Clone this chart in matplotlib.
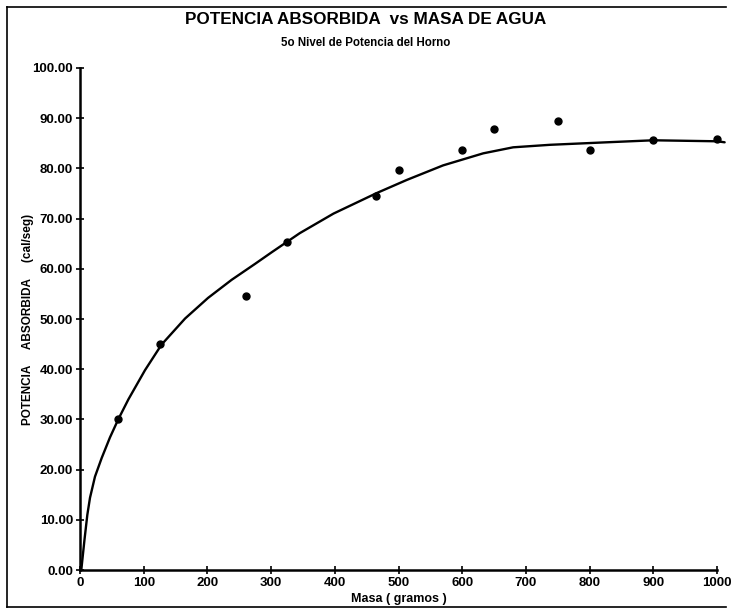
import matplotlib
matplotlib.use('Agg')
import matplotlib.pyplot as plt
from matplotlib.lines import Line2D

# measured points
masa = [60, 125, 260, 325, 465, 500, 600, 650, 750, 800, 900, 1000]
potencia = [30.0, 45.0, 54.5, 65.3, 74.6, 79.7, 83.7, 87.8, 89.4, 83.7, 85.7, 85.9]

# trend curve, read along its length
curva_x = [2, 7, 11.5, 15.7, 23.5, 34, 47, 60, 76, 102, 128, 165, 201, 238, 275, 301,
           345, 398, 466, 513, 570, 633, 680, 738, 827, 900, 1000, 1012]
curva_y = [0.0, 6.0, 11.0, 14.4, 18.6, 22.3, 26.4, 30.0, 34.0, 39.8, 44.9, 50.1, 54.2,
           57.8, 61.0, 63.3, 67.1, 71.0, 75.1, 77.7, 80.6, 83.0, 84.2, 84.7, 85.2, 85.6,
           85.4, 85.2]

x_ticks = [0, 100, 200, 300, 400, 500, 600, 700, 800, 900, 1000]
y_ticks = [0, 10, 20, 30, 40, 50, 60, 70, 80, 90, 100]

plt.rcParams['font.family'] = ['Liberation Sans', 'DejaVu Sans']

fig = plt.figure(figsize=(7.32, 6.12), dpi=100)
ax = fig.add_axes([0.1093, 0.0686, 0.8702, 0.8203])

ax.plot(curva_x, curva_y, color='black', lw=1.7, clip_on=False, zorder=2,
        solid_joinstyle='round', solid_capstyle='round')
ax.plot(masa, potencia, 'o', color='black', ms=5, clip_on=False, zorder=3)

ax.set_xlim(0, 1000)
ax.set_ylim(0, 100)
ax.set_xticks(x_ticks)
ax.set_yticks(y_ticks)
ax.set_yticklabels(['%.2f' % v for v in y_ticks])
ax.tick_params(direction='inout', length=6, width=1.2, labelsize=9.5, pad=2)
for lab in ax.get_xticklabels() + ax.get_yticklabels():
    lab.set_fontweight('bold')

for s in ['top', 'right']:
    ax.spines[s].set_visible(False)
for s in ['left', 'bottom']:
    ax.spines[s].set_linewidth(1.8)

ax.set_xlabel('Masa ( gramos )', fontsize=9, fontweight='bold', labelpad=3)
ax.set_ylabel('POTENCIA     ABSORBIDA     (cal/seg)', fontsize=8.5, fontweight='bold')
ax.yaxis.set_label_coords(-0.072, 0.5)

fig.text(0.5, 0.968, 'POTENCIA ABSORBIDA  vs MASA DE AGUA', ha='center', va='center',
         fontsize=12.3, fontweight='bold')
fig.text(0.5, 0.929, '5o Nivel de Potencia del Horno', ha='center', va='center',
         fontsize=8.3, fontweight='bold')

# page frame: top, left and bottom edges
for xs, ys in [([0.009, 0.992], [0.989, 0.989]),
               ([0.009, 0.009], [0.008, 0.989]),
               ([0.009, 0.992], [0.008, 0.008])]:
    fig.add_artist(Line2D(xs, ys, transform=fig.transFigure, color='black', lw=1.2))

fig.savefig('out.png', dpi=100)
